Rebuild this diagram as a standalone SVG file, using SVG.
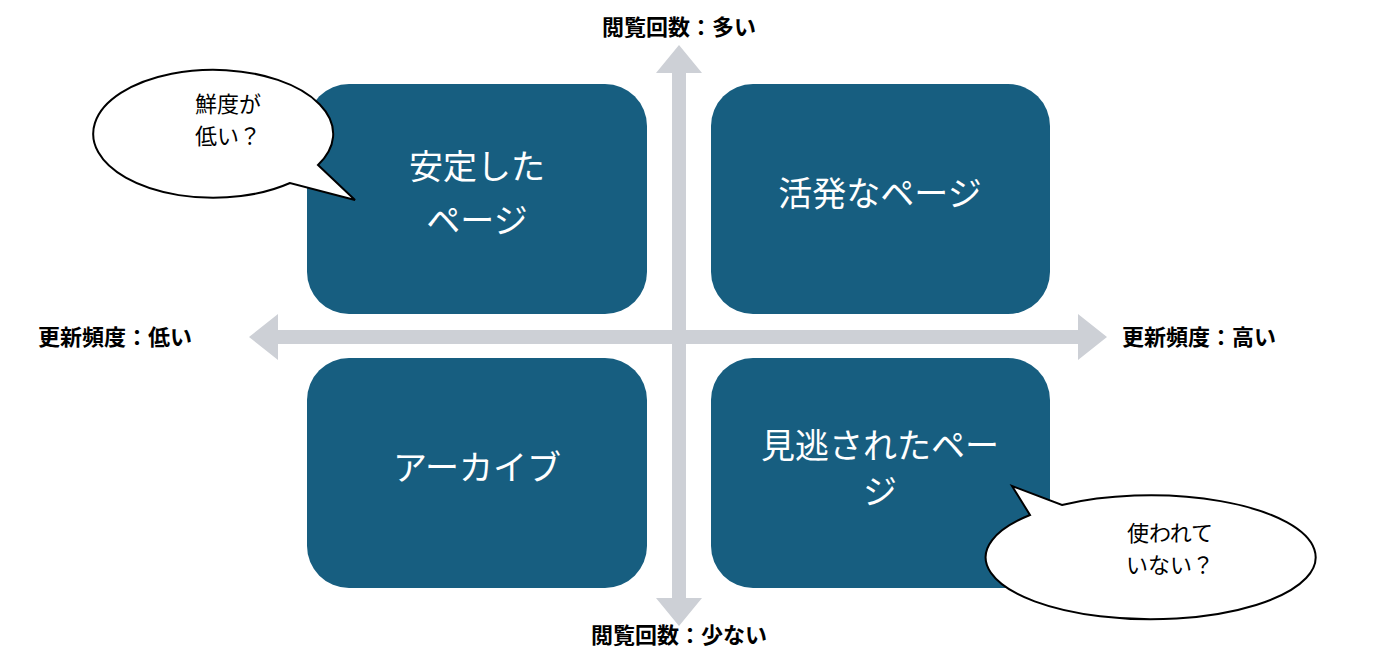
<svg xmlns="http://www.w3.org/2000/svg" width="1400" height="662" viewBox="0 0 1400 662">
<style>
.box{fill:#175E80}
.bt{font-family:"Noto Sans CJK JP",sans-serif;font-size:34px;fill:#fff;text-anchor:middle}
.ax{font-family:"Noto Sans CJK JP",sans-serif;font-size:22px;font-weight:bold;fill:#000}
.bub{fill:#fff;stroke:#000;stroke-width:2}
.bbt{font-family:"Noto Sans CJK JP",sans-serif;font-size:22px;fill:#000;text-anchor:middle}
.arr{fill:#CDD0D6}
</style>
<rect width="1400" height="662" fill="#fff"/>
<g id="connectors">
<polygon class="arr" points="679,45 702,73 686,73 686,598 702,598 679,626 656,598 672,598 672,73 656,73"/>
<polygon class="arr" points="249,337 278,314 278,330 1078,330 1078,314 1107,337 1078,360 1078,344 278,344 278,360"/>
</g>
<g id="n1"><rect class="box" x="307" y="84" width="340" height="230" rx="42"/><text class="bt" x="477" y="179">安定した</text><text class="bt" x="477" y="233">ページ</text></g>
<g id="n2"><rect class="box" x="711" y="84" width="339" height="230" rx="42"/><text class="bt" x="880" y="206">活発なページ</text></g>
<g id="n3"><rect class="box" x="307" y="358" width="340" height="230" rx="42"/><text class="bt" x="477" y="480">アーカイブ</text></g>
<g id="n4"><rect class="box" x="711" y="358" width="339" height="230" rx="42"/><text class="bt" x="880" y="458">見逃されたペー</text><text class="bt" x="880" y="504">ジ</text></g>
<g id="b1"><path class="bub" d="M 318,165 A 120 64 0 1 0 290,183 L 355,200 Z"/><text class="bbt" x="228" y="112">鮮度が</text><text class="bbt" x="228" y="144">低い？</text></g>
<g id="b2"><path class="bub" d="M 1062,505 A 165 62 0 1 1 1030,515 L 1012,486 Z"/><text class="bbt" x="1170" y="541">使われて</text><text class="bbt" x="1170" y="573">いない？</text></g>
<g id="labels">
<text class="ax" x="679" y="35" text-anchor="middle">閲覧回数：多い</text>
<text class="ax" x="679" y="643" text-anchor="middle">閲覧回数：少ない</text>
<text class="ax" x="38" y="345">更新頻度：低い</text>
<text class="ax" x="1122" y="345">更新頻度：高い</text>
</g>
</svg>
